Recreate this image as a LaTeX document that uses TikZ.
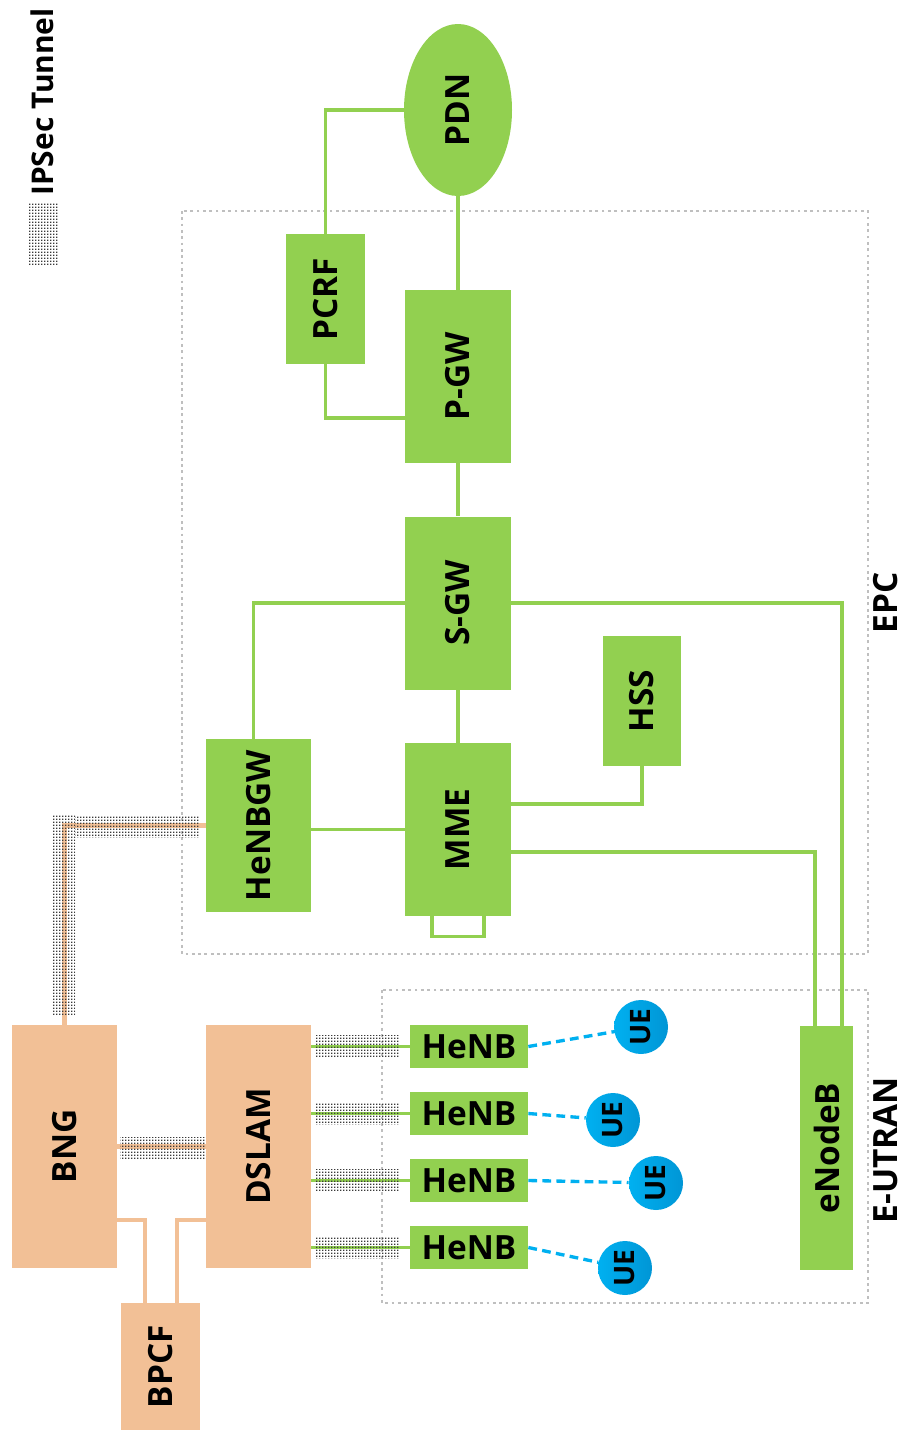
\documentclass[tikz,border=0pt]{standalone}
\usepackage{fontspec}
\setmainfont{Open Sans}
\usepackage{graphicx}
\usetikzlibrary{shapes.geometric,patterns.meta}
\definecolor{LteGreen}{HTML}{92D050}
\definecolor{Peach}{HTML}{F2C096}
\definecolor{UeBlue}{HTML}{00B0F0}
\definecolor{UeBlueDark}{HTML}{0096D6}
\definecolor{FrameGray}{HTML}{BFBFBF}
\definecolor{TunnelGray}{HTML}{3A3A3A}
\newcommand{\vlabel}[1]{\rotatebox{90}{#1}}
\tikzdeclarepattern{
  name=tunneldots,
  type=uncolored,
  bounding box={(0,0) and (1.7pt,1.7pt)},
  tile size={(1.7pt,1.7pt)},
  code={\pgfpathrectangle{\pgfpointorigin}{\pgfpoint{0.75pt}{0.75pt}}\pgfusepath{fill}}
}

\begin{document}
\begin{tikzpicture}[
  x=0.2mm,y=-0.2mm,
  font=\bfseries\fontsize{19}{21}\selectfont,
  gbox/.style={fill=LteGreen,inner sep=0pt},
  obox/.style={fill=Peach,inner sep=0pt},
  glink/.style={LteGreen,line width=2.1pt},
  olink/.style={Peach,line width=2.4pt},
  tunnel/.style={pattern={tunneldots},pattern color=TunnelGray},
  frame/.style={draw=FrameGray,line width=1.4pt,dash pattern=on 1.6pt off 2pt},
  uelink/.style={UeBlue,line width=1.9pt,dash pattern=on 5pt off 3pt},
  ue/.style={circle,minimum size=1.08cm,inner sep=0pt,left color=UeBlue,right color=UeBlueDark,
    font=\bfseries\fontsize{16}{18}\selectfont}
]
  \useasboundingbox (0,0) rectangle (909,1430);

  % Legend.
  \node[anchor=south,inner sep=0pt,font=\bfseries\fontsize{17}{19}\selectfont] (legend) at (42,196) {\vlabel{IPSec Tunnel}};
  \fill[tunnel] (28,203) rectangle (59,265);

  % EPC frame.
  \draw[frame] (182,211) rectangle (868,954);
  \node (epc) at (886,603) {\vlabel{EPC}};
  \node[ellipse,gbox,minimum width=2.16cm,minimum height=3.44cm] (pdn) at (458,110) {\vlabel{PDN}};
  \node[gbox,minimum width=1.58cm,minimum height=2.6cm] (pcrf) at (325.5,299) {\vlabel{PCRF}};
  \node[gbox,minimum width=2.12cm,minimum height=3.46cm] (pgw) at (458,376.5) {\vlabel{P-GW}};
  \node[gbox,minimum width=2.12cm,minimum height=3.46cm] (sgw) at (458,603) {\vlabel{S-GW}};
  \node[gbox,minimum width=1.56cm,minimum height=2.6cm] (hss) at (642,701) {\vlabel{HSS}};
  \node[gbox,minimum width=2.12cm,minimum height=3.46cm] (mme) at (458,829.5) {\vlabel{MME}};
  \node[gbox,minimum width=2.1cm,minimum height=3.46cm] (henbgw) at (258.5,825.5) {\vlabel{HeNBGW}};

  % E-UTRAN frame.
  \draw[frame] (382,990) rectangle (868,1303);
  \node (eutran) at (886,1150) {\vlabel{E-UTRAN}};
  \node[gbox,minimum width=1.06cm,minimum height=4.88cm] (enodeb) at (826.5,1148) {\vlabel{eNodeB}};
  \foreach \i/\y in {1/1046.5,2/1113.5,3/1180.5,4/1247.5}
    \node[gbox,minimum width=2.36cm,minimum height=0.86cm] (henb\i) at (469,\y) {HeNB};
  \node[ue] (ue1) at (641,1027) {\vlabel{UE}};
  \node[ue] (ue2) at (613,1120) {\vlabel{UE}};
  \node[ue] (ue3) at (656,1183) {\vlabel{UE}};
  \node[ue] (ue4) at (625,1268) {\vlabel{UE}};

  % Fixed access side.
  \node[obox,minimum width=2.1cm,minimum height=4.86cm] (bng) at (64.5,1146.5) {\vlabel{BNG}};
  \node[obox,minimum width=2.1cm,minimum height=4.86cm] (dslam) at (258.5,1146.5) {\vlabel{DSLAM}};
  \node[obox,minimum width=1.58cm,minimum height=2.54cm] (bpcf) at (160.5,1366.5) {\vlabel{BPCF}};

  % Core links.
  \draw[glink] (pdn.south) -- (pgw.north);
  \draw[glink] (pdn.west) -| (pcrf.north);
  \draw[glink] (pcrf.south) |- ([yshift=-0.83cm]pgw.west);
  \draw[glink] (pgw) -- (sgw);
  \draw[glink] (sgw) -- (mme);
  \draw[glink] (sgw.west) -| ([xshift=-0.1cm]henbgw.north);
  \draw[glink] (sgw.east) -| ([xshift=0.31cm]enodeb.north);
  \draw[glink] ([yshift=-0.45cm]mme.east) -| ([xshift=-0.23cm]enodeb.north);
  \draw[glink] ([yshift=0.51cm]mme.east) -| (hss.south);
  \draw[glink] (mme.west -| henbgw.east) -- (mme.west);
  \draw[glink] ([xshift=-0.52cm]mme.south) -- ++(0,20) -| ([xshift=0.52cm]mme.south);

  % Tunnels and fixed links.
  \draw[olink] (bng.north) |- (henbgw.west);
  \fill[tunnel] (53,815) rectangle (75,1015);
  \fill[tunnel] (75,815) rectangle (200,837);
  \draw[olink] (bng.east) -- (bng.east -| dslam.west);
  \fill[tunnel] (120,1137) rectangle (205,1158);
  \draw[olink] ([yshift=-1.47cm]bng.east) -| ([xshift=-0.31cm]bpcf.north);
  \draw[olink] ([yshift=-1.47cm]dslam.west) -| ([xshift=0.33cm]bpcf.north);
  \foreach \i in {1,...,4}{
    \draw[glink] (henb\i.west -| dslam.east) -- (henb\i.west);
    \fill[tunnel] ([yshift=0.22cm]henb\i.west -| 316,0) rectangle ([yshift=-0.22cm]henb\i.west -| 400,0);
    \draw[uelink] (henb\i.east) -- (ue\i);
  }
\end{tikzpicture}
\end{document}
